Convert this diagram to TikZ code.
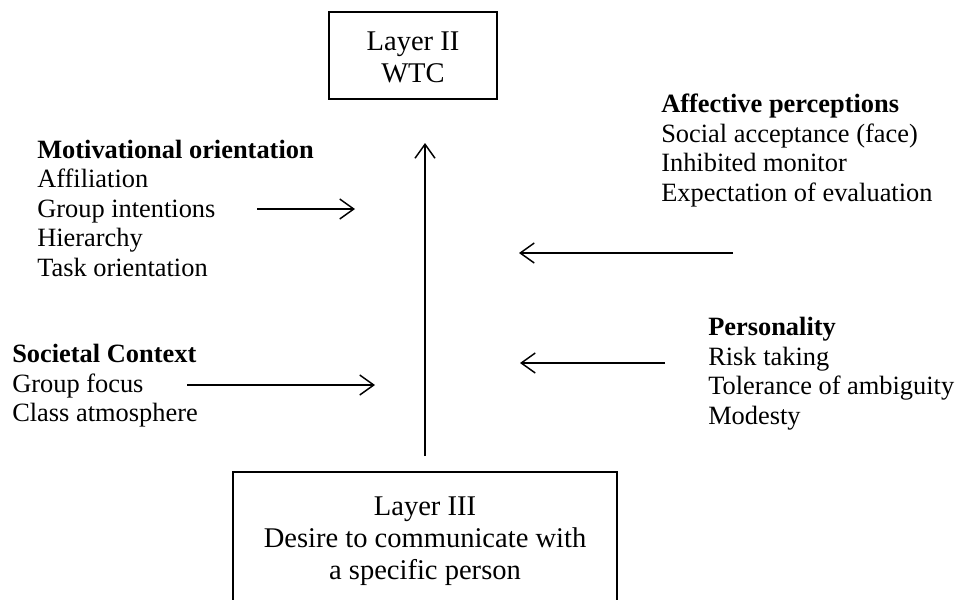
\documentclass[tikz,border=0pt]{standalone}
\usepackage{fontspec}
\setmainfont{Liberation Serif}
\usetikzlibrary{arrows.meta}
\begin{document}
\begin{tikzpicture}[x=0.75pt,y=-0.75pt,
  side/.style={anchor=base west, inner sep=0pt, align=left,
    font=\fontsize{19.8}{22.1}\selectfont},
  boxtxt/.style={inner sep=0pt, align=center,
    font=\fontsize{21.4}{24}\selectfont},
  layerbox/.style={draw, line width=1.1pt, inner sep=0pt},
  conn/.style={line width=1.1pt,
    -{Straight Barb[length=10.5pt,width=15pt,line width=1.1pt]}}]
\useasboundingbox (0,0) rectangle (961,600);

% boxes
\node[layerbox, minimum width=126pt, minimum height=65.25pt] (l2) at (413,55.5) {};
\node[boxtxt] (l2t) at (413,57) {Layer II\\WTC};
\node[layerbox, minimum width=288pt, minimum height=126pt] (l3) at (425,556) {};
\node[boxtxt] (l3t) at (425,541) {Layer III\\Desire to communicate with\\a specific person};

% side texts (anchored at the baseline of their last line)
\node[side] (mot) at (37,276) {\textbf{Motivational orientation}\\Affiliation\\Group intentions\\Hierarchy\\Task orientation};
\node[side] (aff) at (661,201) {\textbf{Affective perceptions}\\Social acceptance (face)\\Inhibited monitor\\Expectation of evaluation};
\node[side] (per) at (708,424) {\textbf{Personality}\\Risk taking\\Tolerance of ambiguity\\Modesty};
\node[side] (soc) at (12,421.5) {\textbf{Societal Context}\\Group focus\\Class atmosphere};

% arrow end points
\coordinate (vB) at (425,456);
\coordinate (vT) at (425,143);
\coordinate (moS) at (257,209);
\coordinate (moE) at (355,209);
\coordinate (afS) at (733,253);
\coordinate (afE) at (519,253);
\coordinate (peS) at (665,363);
\coordinate (peE) at (520,363);
\coordinate (soS) at (187,385);
\coordinate (soE) at (375,385);

\draw[conn] (vB) -- (vT);
\draw[conn] (moS) -- (moE);
\draw[conn] (afS) -- (afE);
\draw[conn] (peS) -- (peE);
\draw[conn] (soS) -- (soE);
\end{tikzpicture}
\end{document}
